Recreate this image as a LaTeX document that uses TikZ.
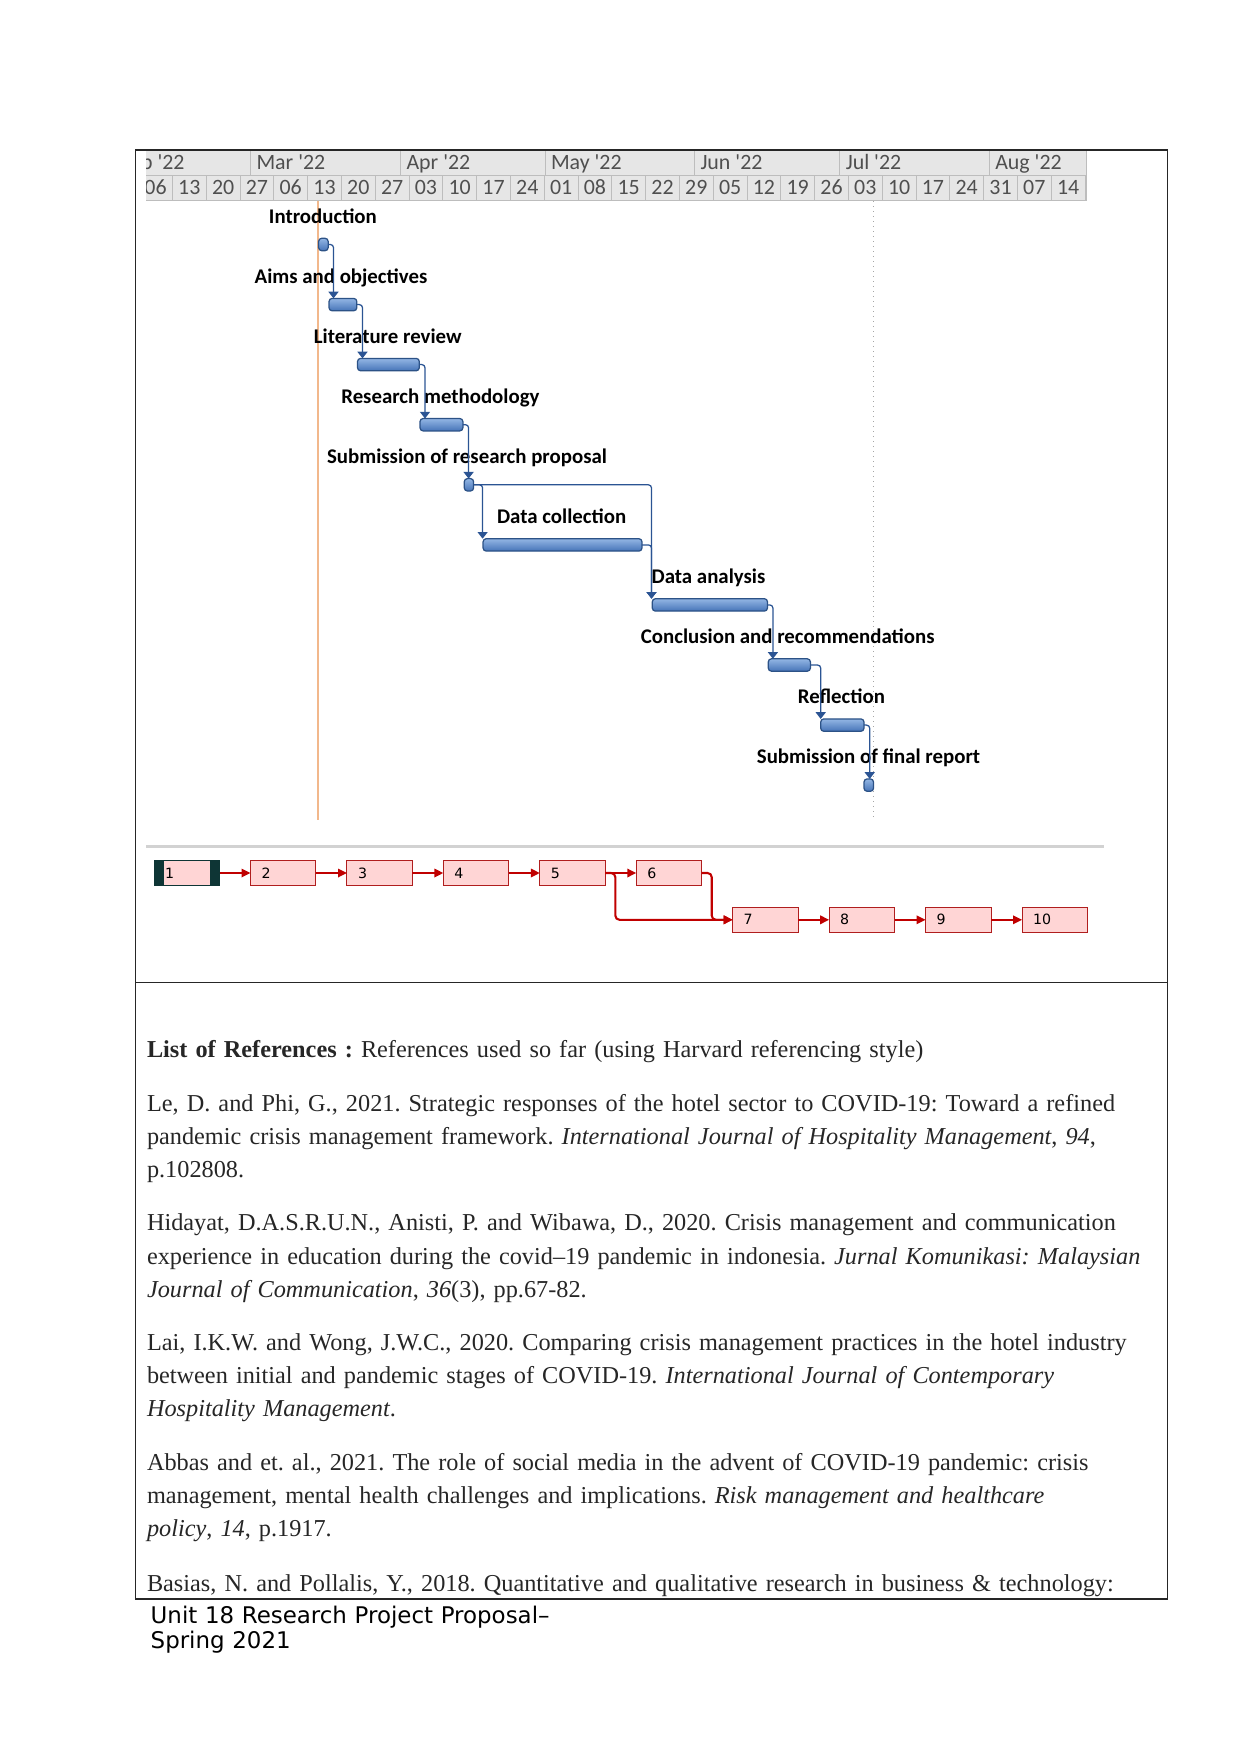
\documentclass[tikz,border=0pt]{standalone}
\usepackage{fontspec}
\setmainfont{Liberation Serif}
\newfontfamily\ganttfont{Carlito}[Ligatures=TeXOff]
\newfontfamily\footfont{DejaVu Sans}
\usetikzlibrary{arrows.meta,calc}

\definecolor{hdrfill}{HTML}{E6E6E6}
\definecolor{hdrline}{HTML}{BDBDBD}
\definecolor{hdrtext}{HTML}{4F4F4F}
\definecolor{barlight}{HTML}{93B6E4}
\definecolor{bardark}{HTML}{4674B8}
\definecolor{barline}{HTML}{2C5286}
\definecolor{linkblue}{HTML}{2B5493}
\definecolor{todayline}{HTML}{F2B88C}
\definecolor{netfill}{HTML}{FFD5D5}
\definecolor{netline}{HTML}{B01E1E}
\definecolor{netarrow}{HTML}{C00000}
\definecolor{netband}{HTML}{0E3535}

\begin{document}
\begin{tikzpicture}[
  x=0.4797pt, y=-0.4797pt,
  every node/.style={inner sep=0pt, outer sep=0pt},
  frame/.style={draw=black!85, line width=0.6pt},
  month label/.style={font=\ganttfont\fontsize{10.5}{12}\selectfont, text=hdrtext, anchor=base west},
  day label/.style={font=\ganttfont\fontsize{10.5}{12}\selectfont, text=hdrtext, anchor=base},
  task label/.style={font=\ganttfont\bfseries\fontsize{10}{12}\selectfont, anchor=base},
  task bar/.style={draw=barline, line width=0.6pt, rounded corners=1.5pt, top color=barlight, bottom color=bardark, minimum height=5.95pt, anchor=north west},
  link/.style={draw=linkblue, line width=0.6pt, rounded corners=1.5pt, -{Triangle[width=4.8pt,length=3.2pt]}},
  net box/.style={draw=netline, line width=0.5pt, fill=netfill, text width=20.8pt, inner xsep=5.3pt, minimum height=11.8pt, align=left, font=\footfont\fontsize{6.8}{7}\selectfont},
  net link/.style={draw=netarrow, line width=1pt, rounded corners=2pt, -{Triangle[width=4pt,length=4.3pt]}},
  ref text/.style={anchor=base west, text width=520pt, align=left, text=black!85, font=\fontsize{11.65}{15.9}\selectfont\frenchspacing}
]
\useasboundingbox (0,0) rectangle (1241,1754);

% Timescale
\begin{scope}
  \clip (146,150) rectangle (1087,201);
  \fill[hdrfill] (100,150) rectangle (1087,201);
  \draw[hdrline] (100,175.5) -- (1087,175.5);
  \draw[hdrline] (100,200.6) -- (1087,200.6);
  \draw[hdrline] (1086.6,150) -- (1086.6,201);
  \foreach \mx in {114.5,250.5,400.2,545,694.7,839.6,989.3}
    \draw[hdrline] (\mx,150) -- (\mx,175.5);
  \foreach \k in {0,...,28}
    \draw[hdrline] (138.6+33.8*\k,175.5) -- (138.6+33.8*\k,201);
  \node[month label] (feb) at (120.5,169.5) {Feb '22};
  \node[month label] (mar) at (256.5,169.5) {Mar '22};
  \node[month label] (apr) at (406.5,169.5) {Apr '22};
  \node[month label] (may) at (551,169.5) {May '22};
  \node[month label] (jun) at (700.5,169.5) {Jun '22};
  \node[month label] (jul) at (845.8,169.5) {Jul '22};
  \node[month label] (aug) at (995.3,169.5) {Aug '22};
  \foreach \d [count=\k from 0] in {06,13,20,27,06,13,20,27,03,10,17,24,01,08,15,22,29,05,12,19,26,03,10,17,24,31,07,14}
    \node[day label] at (138.6+33.8*\k+16.9,195) {\d};
\end{scope}

% Today and deadline lines
\draw[todayline, line width=0.8pt] (317.7,201) -- (317.7,820);
\draw[gray!70, line width=0.4pt, dotted] (873.5,201) -- (873.5,820);

% Task labels
\node[task label] (intro-l) at (322.9,223) {Introduction};
\node[task label] (aims-l) at (341,283.1) {Aims and objectives};
\node[task label] (lit-l) at (387.7,343.1) {Literature review};
\node[task label] (meth-l) at (440.4,403.2) {Research methodology};
\node[task label] (subp-l) at (467,463.3) {Submission of research proposal};
\node[task label] (dcol-l) at (561.6,523.4) {Data collection};
\node[task label] (dana-l) at (708.5,583.4) {Data analysis};
\node[task label] (conc-l) at (787.7,643.5) {Conclusion and recommendations};
\node[task label] (refl-l) at (841.4,703.6) {Reflection};
\node[task label] (subf-l) at (868.5,763.6) {Submission of final report};

% Task bars
\node[task bar, minimum width=4.6pt] (intro) at (318.6,238.3) {};
\node[task bar, minimum width=13.34pt] (aims) at (329,298.4) {};
\node[task bar, minimum width=29.65pt] (lit) at (357.5,358.4) {};
\node[task bar, minimum width=20.58pt] (meth) at (420,418.5) {};
\node[task bar, minimum width=4.46pt] (subp) at (464.3,478.6) {};
\node[task bar, minimum width=76.22pt] (dcol) at (483.1,538.7) {};
\node[task bar, minimum width=55.26pt] (dana) at (652.3,598.7) {};
\node[task bar, minimum width=20.2pt] (conc) at (768.3,658.8) {};
\node[task bar, minimum width=20.77pt] (refl) at (820.7,718.9) {};
\node[task bar, minimum width=4.56pt] (subf) at (864,778.9) {};

% Links between tasks
\draw[link] (intro.east) -| ($(aims.north west)+(4.5,0)$);
\draw[link] (aims.east) -| ($(lit.north west)+(5,0)$);
\draw[link] (lit.east) -| ($(meth.north west)+(5,0)$);
\draw[link] (meth.east) -| ($(subp.north west)+(4.3,0)$);
\draw[link] (subp.east) -| ($(dcol.north west)+(-0.5,0)$);
\draw[link] (subp.east) -| ($(dana.north west)+(-0.8,0)$);
\draw[link] (dcol.east) -| ($(dana.north west)+(-0.8,0)$);
\draw[link] (dana.east) -| ($(conc.north west)+(4.6,0)$);
\draw[link] (conc.east) -| (refl.north west);
\draw[link] (refl.east) -| ($(subf.north west)+(5.7,0)$);

% Network view
\draw[gray!35, line width=1pt] (146,846.5) -- (1104,846.5);

\node[net box, draw=netband] (n1) at (186.8,873) {1};
\fill[netband] (n1.north west) rectangle ($(n1.south west)+(10,0)$);
\fill[netband] ($(n1.north east)+(-10,0)$) rectangle (n1.south east);
\node[net box] (n2) at (283.2,873) {2};
\node[net box] (n3) at (379.7,873) {3};
\node[net box] (n4) at (476.1,873) {4};
\node[net box] (n5) at (572.6,873) {5};
\node[net box] (n6) at (669,873) {6};
\node[net box] (n7) at (765.4,919.8) {7};
\node[net box] (n8) at (861.9,919.8) {8};
\node[net box] (n9) at (958.3,919.8) {9};
\node[net box] (n10) at (1054.8,919.8) {10};

\draw[net link] (n1) -- (n2);
\draw[net link] (n2) -- (n3);
\draw[net link] (n3) -- (n4);
\draw[net link] (n4) -- (n5);
\draw[net link] (n5) -- (n6);
\draw[net link] (n5.east) -- ++(10,0) |- (n7.west);
\draw[net link] (n6.east) -- ++(10,0) |- (n7.west);
\draw[net link] (n7) -- (n8);
\draw[net link] (n8) -- (n9);
\draw[net link] (n9) -- (n10);

% References
\node[ref text] (refhead) at (147,1057.6) {\textbf{List of References :} References used so far (using Harvard referencing style)};
\node[ref text] (ref1) at (147,1111.2) {Le, D. and Phi, G., 2021. Strategic responses of the hotel sector to COVID-19: Toward a refined\\
pandemic crisis management framework. \textit{International Journal of Hospitality Management}, \textit{94},\\
p.102808.};
\node[ref text] (ref2) at (147,1230.9) {Hidayat, D.A.S.R.U.N., Anisti, P. and Wibawa, D., 2020. Crisis management and communication\\
experience in education during the covid–19 pandemic in indonesia. \textit{Jurnal Komunikasi: Malaysian}\\
\textit{Journal of Communication}, \textit{36}(3), pp.67-82.};
\node[ref text] (ref3) at (147,1350.6) {Lai, I.K.W. and Wong, J.W.C., 2020. Comparing crisis management practices in the hotel industry\\
between initial and pandemic stages of COVID-19. \textit{International Journal of Contemporary}\\
\textit{Hospitality Management}.};
\node[ref text] (ref4) at (147,1470.4) {Abbas and et. al., 2021. The role of social media in the advent of COVID-19 pandemic: crisis\\
management, mental health challenges and implications. \textit{Risk management and healthcare}\\
\textit{policy}, \textit{14}, p.1917.};
\node[ref text] (ref5) at (147,1591) {Basias, N. and Pollalis, Y., 2018. Quantitative and qualitative research in business \& technology:};

% Frame
\draw[frame] (135.4,150) rectangle (1167.7,1599);
\draw[frame] (135.4,982.5) -- (1167.7,982.5);

% Footer
\node[anchor=base west, text width=300pt, align=left, font=\footfont\fontsize{11}{12}\selectfont] (foot) at (150.7,1623.3) {Unit 18 Research Project Proposal–\\Spring 2021};

\end{tikzpicture}
\end{document}
